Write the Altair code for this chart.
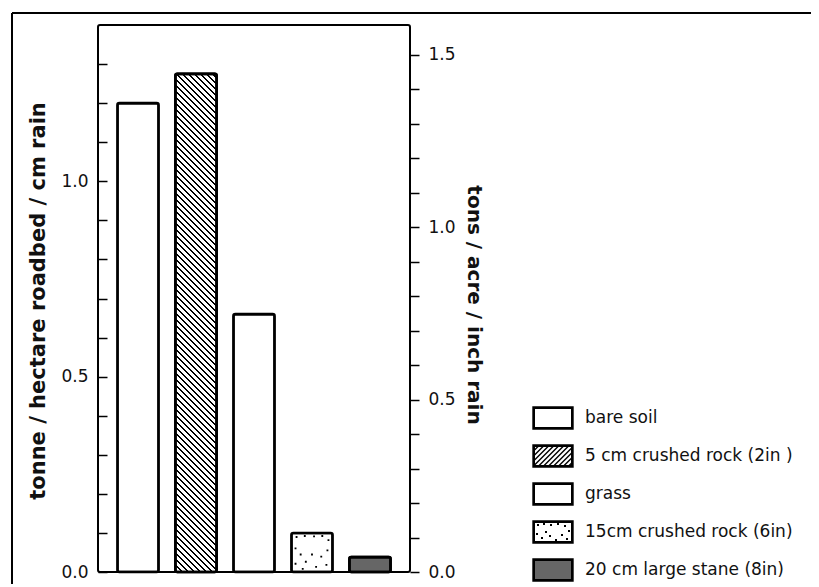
import math
import altair as alt
import pandas as pd

# ---------------- data ----------------
categories = [
    "bare soil",
    "5 cm crushed rock (2in )",
    "grass",
    "15cm crushed rock (6in)",
    "20 cm large stane (8in)",
]
values = [1.20, 1.275, 0.66, 0.10, 0.038]   # tonne / hectare roadbed / cm rain
left_ticks = [round(i * 0.1, 1) for i in range(0, 14)]
right_ticks = [round(i * 0.1, 1) for i in range(0, 16)]
TONS_PER_TONNE = 1.1331   # t/ha/cm -> tons/acre/inch
legend_fills = ["white", "white", "white", "white", "#666666"]

df = pd.DataFrame({"cat": categories, "value": values})

# ---------------- layout ----------------
W, H = 312, 547
YMAX = 1.4
P_IN, P_OUT = 0.29, 0.335
FONT = "DejaVu Sans"

step = W / (len(categories) - P_IN + 2 * P_OUT)
bw = step * (1 - P_IN)

# ----- hatch gradient for the 5 cm crushed rock bar (45 deg stripes) -----
h_bar = values[1] / YMAX * H
c = 1.08
D = c * (h_bar + bw * bw / h_bar)
period = 6.0
N = D / period
stops = []
k = 0
while k / N < 1:
    o0 = k / N
    o1 = min((k + 0.42) / N, 1)
    o2 = min((k + 1) / N, 1)
    stops += [alt.GradientStop(color="black", offset=o0),
              alt.GradientStop(color="black", offset=o1),
              alt.GradientStop(color="white", offset=o1),
              alt.GradientStop(color="white", offset=o2)]
    k += 1
hatch_grad = alt.LinearGradient(gradient="linear", stops=stops,
                                x1=0, y1=1, x2=c * bw / h_bar, y2=1 - c)

# ----- stipple dots for 15 cm bar (custom symbol path) -----
def sq(cx, cy, s):
    return f"M{cx - s:.3f},{cy - s:.3f}h{2 * s:.3f}v{2 * s:.3f}h{-2 * s:.3f}Z"

dot_pts = [(-0.75, -0.75), (-0.35, -0.8), (0.1, -0.78), (0.5, -0.8), (0.8, -0.6),
           (-0.8, -0.2), (-0.55, 0.1), (0.75, -0.1), (0.45, 0.2), (-0.8, 0.55),
           (-0.3, 0.45), (0.2, 0.7), (0.7, 0.6), (-0.45, 0.8), (0.0, 0.1)]
dot_path = "".join(sq(x, y, 0.045) for x, y in dot_pts)

# ----- legend symbol paths (unit = 11 px) -----
U = 11.0
hx, hy = 20.0, 11.0
ins = 1.3
def rect_path(a, b):
    return f"M{-a / U:.3f},{-b / U:.3f}H{a / U:.3f}V{b / U:.3f}H{-a / U:.3f}Z"
base_rect = rect_path(hx, hy) + rect_path(hx - ins, hy - ins)

hatch_lines = ""
ix, iy = hx - ins, hy - ins
kk = -ix - iy + 4
while kk < ix + iy:
    xa = max(-ix, kk - iy)
    xb = min(ix, kk + iy)
    if xb > xa:
        hatch_lines += f"M{xa / U:.3f},{(kk - xa) / U:.3f}L{xb / U:.3f},{(kk - xb) / U:.3f}"
    kk += 5.0

leg_dots = [(-15, -7), (-9, -8), (-2, -7), (5, -8), (12, -6), (16, -1),
            (-16, 2), (-11, 6), (-3, 4), (9, 3), (14, 7), (3, 8), (-7, 0)]
leg_dot_path = "".join(sq(x / U, y / U, 0.3 / U) for x, y in leg_dots)

legend_shapes = [base_rect, base_rect + hatch_lines, base_rect,
                 base_rect + leg_dot_path, base_rect]

# ---------------- charts ----------------
xenc = alt.X("cat:N", sort=categories,
             scale=alt.Scale(domain=categories, paddingInner=P_IN, paddingOuter=P_OUT),
             axis=None)

def yscale():
    return alt.Scale(domain=[0, YMAX], nice=False, zero=True)

left_axis = alt.Axis(
    orient="left", values=left_ticks, title="tonne / hectare roadbed / cm rain",
    labelExpr="round(datum.value*10) % 5 == 0 ? format(datum.value, '.1f') : ''",
    ticks=False, labelPadding=10, labelFontSize=17, labelFont=FONT,
    labelColor="#111", domain=False,
    grid=True, gridDash=[9, 3000], gridColor="black", gridWidth=1.5, gridOpacity=1,
    titleFont=FONT, titleFontSize=21, titleFontWeight="bold", titleColor="#111",
    titleX=-60, titleY=H / 2 + 2, titleAngle=270, titleAlign="center", titleBaseline="middle",
)

base = alt.Chart(df)
bar_style = dict(stroke="black", strokeWidth=2.6, cornerRadius=2, opacity=1)

bars = base.mark_bar(fill="white", **bar_style).encode(
    x=xenc, y=alt.Y("value:Q", scale=yscale(), axis=left_axis))

hatch = base.transform_filter(alt.datum.cat == categories[1]).mark_bar(
    fill=hatch_grad, **bar_style).encode(
    x=xenc, y=alt.Y("value:Q", scale=yscale(), axis=None))

dark = base.transform_filter(alt.datum.cat == categories[4]).mark_bar(
    fill="#666666", **bar_style).encode(
    x=xenc, y=alt.Y("value:Q", scale=yscale(), axis=None))

dots = base.transform_filter(alt.datum.cat == categories[3]).transform_calculate(
    mid="datum.value / 2").mark_point(
    shape=dot_path, size=bw * bw, filled=True, fill="black", strokeWidth=0, opacity=1).encode(
    x=xenc, y=alt.Y("mid:Q", scale=yscale(), axis=None))

def leg():
    return alt.Legend(title=None, orient="none", legendX=443, legendY=381,
                      symbolSize=484, symbolStrokeWidth=1.4, symbolStrokeColor="black",
                      labelFontSize=17, labelFont=FONT, labelColor="#111", labelLimit=400,
                      labelOffset=20, rowPadding=10, padding=0)

legend_pts = base.mark_point(filled=True, stroke="black", strokeWidth=1.4, opacity=1).encode(
    x=alt.value(-3000), y=alt.value(-3000),
    fill=alt.Fill("cat:N", sort=categories,
                  scale=alt.Scale(domain=categories, range=legend_fills), legend=leg()),
    stroke=alt.Stroke("cat:N", sort=categories,
                      scale=alt.Scale(domain=categories, range=["black"] * 5), legend=leg()),
    shape=alt.Shape("cat:N", sort=categories,
                    scale=alt.Scale(domain=categories, range=legend_shapes), legend=leg()),
)

frame_df = pd.DataFrame({"a": [0]})
frame_top = alt.Chart(frame_df).mark_rule(color="black", strokeWidth=2).encode(
    x=alt.value(-86), x2=alt.value(720), y=alt.value(-12))
frame_left = alt.Chart(frame_df).mark_rule(color="black", strokeWidth=2).encode(
    x=alt.value(-86), y=alt.value(-12), y2=alt.value(562))

right_axis = alt.Axis(
    orient="right", values=right_ticks, title="tons / acre / inch rain",
    labelExpr="round(datum.value*10) % 5 == 0 ? format(datum.value, '.1f') : ''",
    tickSize=9, tickWidth=1.5, tickColor="black", labelPadding=9,
    labelFontSize=17, labelFont=FONT, labelColor="#111", domain=False, grid=False,
    titleFont=FONT, titleFontSize=20, titleFontWeight="bold", titleColor="#111",
    titleX=63, titleY=H / 2 + 6, titleAngle=90, titleAlign="center", titleBaseline="middle",
)
right = base.transform_calculate(tons=f"datum.value * {TONS_PER_TONNE}").mark_point(
    opacity=0).encode(
    y=alt.Y("tons:Q", scale=alt.Scale(domain=[0, YMAX * TONS_PER_TONNE], nice=False),
            axis=right_axis))

chart = alt.layer(bars, hatch, dark, dots, right, legend_pts, frame_top, frame_left
                  ).resolve_scale(y="independent").properties(
    width=W, height=H,
    autosize=alt.AutoSizeParams(type="none"),
    padding={"left": 90, "top": 17, "right": 401, "bottom": 12},
).configure(background="white", font=FONT).configure_view(
    stroke="black", strokeWidth=2, cornerRadius=2)

chart.save("out.html", embed_options={"renderer": "svg", "actions": False})
